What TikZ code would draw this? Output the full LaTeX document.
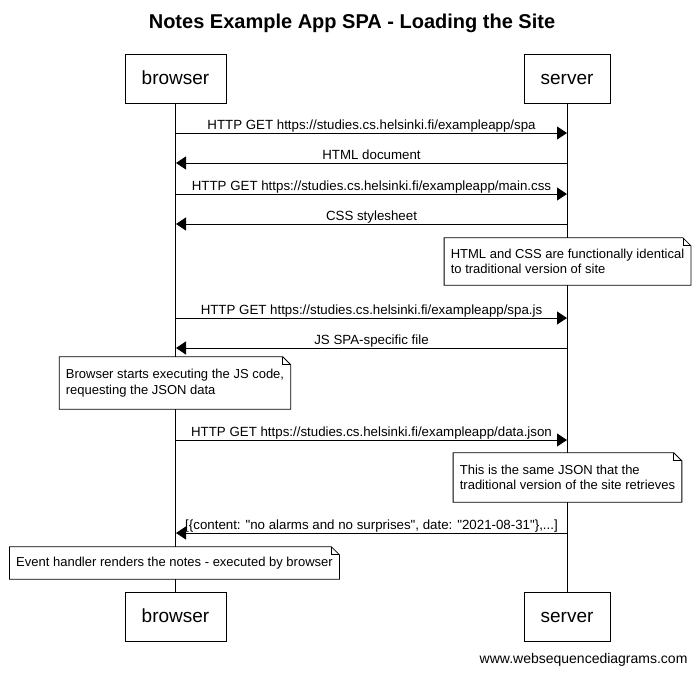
\documentclass[tikz,border=0pt]{standalone}
\usepackage{fontspec}
\setmainfont{Liberation Sans}[Ligatures=TeXOff]
\usetikzlibrary{arrows.meta}

\tikzset{
  actor/.style={draw, line width=0.8pt, fill=white, inner sep=0pt,
    minimum height=49pt, text height=14pt, text depth=3pt,
    font=\fontsize{19}{22}\selectfont},
  msg/.style={line width=0.8pt, -{Triangle[length=10pt,width=13pt]}},
  msglabel/.style={above, inner sep=0.5pt, text depth=3pt,
    font=\fontsize{13.3}{15}\selectfont},
  notebox/.style={fill=white, inner xsep=6.5pt, inner ysep=0pt, align=left,
    font=\fontsize{13}{15.5}\selectfont}
}

\begin{document}
\begin{tikzpicture}[x=1pt,y=-1pt]
    \useasboundingbox (0,0) rectangle (700,675);
    \node[font=\bfseries\fontsize{20}{24}\selectfont] (title) at (352,23) {Notes Example App SPA - Loading the Site};
    % participants
    \node[actor, minimum width=101pt] (browserTop) at (175.5,78.5) {browser};
    \node[actor, minimum width=86pt] (serverTop) at (567,78.5) {server};
    \node[actor, minimum width=101pt] (browserBot) at (175.5,616.5) {browser};
    \node[actor, minimum width=86pt] (serverBot) at (567,616.5) {server};
    % lifelines
    \draw[line width=0.8pt] (browserTop) -- (browserBot);
    \draw[line width=0.8pt] (serverTop) -- (serverBot);
    % message points
    \coordinate (b1) at (176,133); \coordinate (s1) at (567,133);
    \coordinate (b2) at (176,163); \coordinate (s2) at (567,163);
    \coordinate (b3) at (176,194); \coordinate (s3) at (567,194);
    \coordinate (b4) at (176,224); \coordinate (s4) at (567,224);
    \coordinate (b5) at (176,318); \coordinate (s5) at (567,318);
    \coordinate (b6) at (176,348); \coordinate (s6) at (567,348);
    \coordinate (b7) at (176,440); \coordinate (s7) at (567,440);
    \coordinate (b8) at (176,533); \coordinate (s8) at (567,533);
    % messages
    \draw[msg] (b1) -- (s1) node[msglabel, midway] {HTTP GET https://studies.cs.helsinki.fi/exampleapp/spa};
    \draw[msg] (s2) -- (b2) node[msglabel, midway] {HTML document};
    \draw[msg] (b3) -- (s3) node[msglabel, midway] {HTTP GET https://studies.cs.helsinki.fi/exampleapp/main.css};
    \draw[msg] (s4) -- (b4) node[msglabel, midway] {CSS stylesheet};
    \draw[msg] (b5) -- (s5) node[msglabel, midway] {HTTP GET https://studies.cs.helsinki.fi/exampleapp/spa.js};
    \draw[msg] (s6) -- (b6) node[msglabel, midway] {JS SPA-specific file};
    \draw[msg] (b7) -- (s7) node[msglabel, midway] {HTTP GET https://studies.cs.helsinki.fi/exampleapp/data.json};
    \draw[msg] (s8) -- (b8) node[msglabel, midway] {[\{content: "no alarms and no surprises", date: "2021-08-31"\},...]};
    % notes
    \node[notebox, minimum height=47pt] (note1) at (567.5,261.5)
      {HTML and CSS are functionally identical\\to traditional version of site};
    \node[notebox, minimum height=52pt] (note2) at (175,383)
      {Browser starts executing the JS code,\\requesting the JSON data};
    \node[notebox, minimum height=49pt] (note3) at (567.5,477.5)
      {This is the same JSON that the\\traditional version of the site retrieves};
    \node[notebox, minimum height=32pt] (note4) at (174.5,563)
      {Event handler renders the notes - executed by browser};
    \foreach \n in {note1,note2,note3,note4} {
      \draw[line width=0.8pt] (\n.south west) -- (\n.north west) -- ([xshift=-8pt]\n.north east)
        -- ([yshift=-8pt]\n.north east) -- (\n.south east) -- cycle;
      \draw[line width=0.8pt] ([xshift=-8pt]\n.north east) |- ([yshift=-8pt]\n.north east);
    }
    \node[anchor=east, font=\fontsize{14}{16}\selectfont] (footer) at (691,660) {www.websequencediagrams.com};
  \end{tikzpicture}
\end{document}
